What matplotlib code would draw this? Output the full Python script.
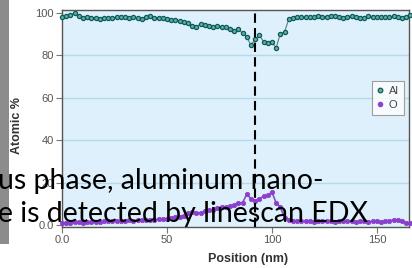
import numpy as np
import matplotlib
matplotlib.use("Agg")
import matplotlib.pyplot as plt
from matplotlib.patches import Rectangle

# ---- data ----
position_nm = np.arange(0, 168, 2)  # linescan sampling positions (nm)
al_pct = [98.0, 98.5, 99.0, 100.0, 98.5, 97.5, 98.0, 97.8, 97.5, 97.3,
          97.8, 97.6, 97.8, 97.9, 98.3, 98.0, 97.7, 98.2, 97.5, 97.2,
          98.0, 98.5, 97.8, 97.4, 97.5, 97.0, 96.8, 96.5, 96.0, 95.8,
          95.5, 94.0, 93.5, 94.8, 94.3, 93.8, 93.5, 93.8, 93.5, 93.3,
          92.5, 91.5, 92.3, 90.5, 88.7, 84.8, 87.5, 89.5, 86.5, 86.0,
          86.3, 83.5, 90.3, 91.0, 97.0, 97.8, 97.9, 98.2, 97.9, 98.3,
          98.0, 98.4, 98.2, 98.0, 98.4, 98.5, 98.1, 97.6, 98.3, 98.6,
          98.1, 97.8, 97.5, 98.6, 98.3, 98.0, 97.9, 98.2, 98.1, 98.5,
          98.2, 97.7, 98.3, 99.2]
o_pct = [1.0, 1.2, 1.0, 1.3, 1.5, 1.2, 1.4, 1.5, 1.6, 1.5,
         1.8, 1.7, 1.9, 2.0, 1.9, 2.1, 2.2, 2.0, 2.3, 2.4,
         2.3, 2.6, 2.5, 2.8, 2.7, 3.0, 3.5, 3.8, 4.0, 4.5,
         5.5, 6.0, 5.5, 5.8, 6.5, 7.0, 7.0, 8.0, 8.5, 8.3,
         8.8, 9.5, 10.5, 10.5, 14.5, 12.5, 11.5, 12.5, 13.5, 14.0,
         15.5, 10.5, 8.5, 3.5, 2.5, 2.0, 1.8, 1.7, 1.9, 1.8,
         1.6, 1.8, 1.7, 1.9, 1.8, 1.6, 1.7, 1.8, 1.9, 1.7,
         1.6, 1.8, 1.7, 1.6, 1.8, 1.7, 1.6, 1.7, 1.9, 2.5,
         2.3, 1.8, 1.2, 1.0]
dash_position = 92
x_ticks = [0, 50, 100, 150]
x_tick_labels = ["0.0", "50", "100", "150"]
y_ticks = [0, 20, 40, 60, 80, 100]
y_tick_labels = ["0.0", "20", "40", "60", "80", "100"]
overlay_lines = ["us phase, aluminum nano-", "e is detected by linescan EDX"]

plt.rcParams['font.family'] = ['Liberation Sans', 'DejaVu Sans']

fig = plt.figure(figsize=(4.12, 2.68), dpi=100)
fig.patch.set_facecolor('white')

# grey photo strip at the far left
fig.patches.append(Rectangle((0, 1 - 244/268), 9/412, 244/268, transform=fig.transFigure,
                             facecolor='#8c8c8c', edgecolor='none', zorder=0))

ax = fig.add_axes([62/412, 1 - 227/268, 347/412, 217/268])
ax.set_facecolor('#def0fb')
ax.set_xlim(0, 165.3)
ax.set_ylim(-0.9, 101.4)

for y in [20, 40, 60, 80]:
    ax.axhline(y, color='#b3dbe8', lw=1.0, zorder=1)

ax.plot(position_nm, al_pct, color='#557f7f', lw=0.8, marker='o', ms=3.0,
        mfc='#5fb0a8', mec='#0f5a5a', mew=0.9, label='Al', zorder=3, clip_on=False)
ax.plot(position_nm, o_pct, color='#8a4fc0', lw=1.2, marker='o', ms=3.2,
        mfc='#8b3fcc', mec='#8b3fcc', mew=0.5, label='O', zorder=3, clip_on=False)

ax.axvline(dash_position, color='black', lw=1.5, dashes=(4.5, 2.5), zorder=4)

ax.set_xticks(x_ticks)
ax.set_xticklabels(x_tick_labels)
ax.set_yticks(y_ticks)
ax.set_yticklabels(y_tick_labels)
ax.tick_params(axis='both', colors='#777777', labelcolor='#555555', labelsize=8,
               length=4, width=0.8, pad=2)

for s in ax.spines.values():
    s.set_color('#555555')
    s.set_linewidth(1.0)

ax.set_xlabel('Position (nm)', fontsize=9, fontweight='bold', color='#333333')
ax.xaxis.set_label_coords(0.535, -0.12)
ax.set_ylabel('Atomic %', fontsize=9, fontweight='bold', color='#333333')
ax.yaxis.set_label_coords(-0.112, 0.47)

leg = ax.legend(loc='upper right', bbox_to_anchor=(0.985, 0.672), fontsize=8,
                frameon=True, fancybox=False, handlelength=0.6, handletextpad=0.5,
                borderpad=0.45, labelspacing=0.3, markerscale=1.1, borderaxespad=0)
leg.get_frame().set_edgecolor('#888888')
leg.get_frame().set_linewidth(0.8)
for h in leg.legend_handles:
    h.set_linestyle('none')
for t in leg.get_texts():
    t.set_color('#444444')

# overlaid slide text
fig.text(-0.005, 1 - 189/268, overlay_lines[0], fontsize=20.5, color='black',
         family=['Lato', 'DejaVu Sans'], ha='left', va='baseline', zorder=10)
fig.text(-0.005, 1 - 222/268, overlay_lines[1], fontsize=20.5, color='black',
         family=['Lato', 'DejaVu Sans'], ha='left', va='baseline', zorder=10)

fig.savefig('out.png', dpi=100)
